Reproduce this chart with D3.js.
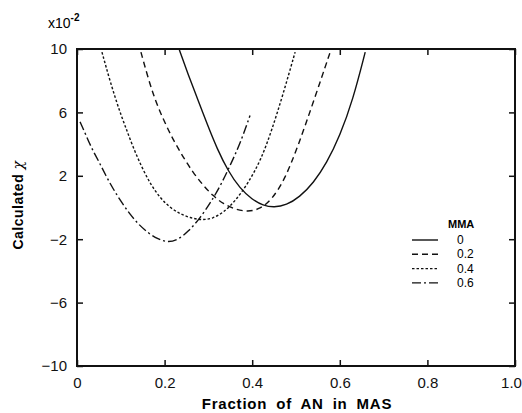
<!DOCTYPE html>
<html lang="en">
<head>
    <meta charset="UTF-8">
    <title>Calculated chi vs fraction of AN in MAS</title>
    <script src="https://d3js.org/d3.v7.min.js"></script>
    <style>
        body { margin: 0; background: #fff; }
        svg { display: block; }
        .tick text { font-family: "Liberation Sans", Arial, sans-serif; font-size: 15px; fill: #111; }
        .curve { fill: none; stroke: #111; stroke-width: 1.4; }
    </style>
</head>
<body>
    <svg width="522" height="413"></svg>
    <script>
        // data (x = fraction of AN, y = chi x 10^2)
        const mma0 = [[0.233,10],[0.255,8.3],[0.276,6.8],[0.298,5.2],[0.320,3.7],[0.345,2.3],[0.372,1.2],[0.400,0.5],[0.425,0.12],[0.450,0.0],[0.478,0.15],[0.508,0.65],[0.540,1.55],[0.570,2.8],[0.600,4.5],[0.630,6.8],[0.658,9.8]];
        const mma02 = [[0.146,9.8],[0.162,8.2],[0.178,6.8],[0.198,5.5],[0.219,4.3],[0.242,3.2],[0.265,2.2],[0.288,1.4],[0.310,0.75],[0.335,0.2],[0.362,-0.12],[0.390,-0.28],[0.418,-0.1],[0.445,0.5],[0.475,1.8],[0.505,3.9],[0.539,6.6],[0.578,9.8]];
        const mma04 = [[0.057,9.8],[0.075,8.0],[0.098,6.0],[0.112,5.0],[0.128,3.8],[0.147,2.6],[0.167,1.5],[0.190,0.6],[0.212,0.0],[0.235,-0.4],[0.258,-0.65],[0.285,-0.8],[0.310,-0.7],[0.335,-0.3],[0.361,0.4],[0.390,1.5],[0.420,3.0],[0.445,4.9],[0.470,7.1],[0.498,9.8]];
        const mma06 = [[0.007,5.4],[0.020,4.6],[0.034,3.7],[0.050,2.9],[0.066,2.0],[0.082,1.2],[0.100,0.4],[0.120,-0.4],[0.140,-1.05],[0.162,-1.6],[0.185,-2.0],[0.207,-2.2],[0.230,-2.05],[0.255,-1.5],[0.280,-0.7],[0.305,0.3],[0.330,1.5],[0.352,2.8],[0.372,4.0],[0.395,5.8]];

        const seriesLabels = ["0", "0.2", "0.4", "0.6"];
        const seriesData = [mma0, mma02, mma04, mma06];
        const dashes = ["none", "6,4", "2.5,2", "9,3,2,3"];

        const xTicks = [0, 0.2, 0.4, 0.6, 0.8, 1.0];
        const xTickLabels = ["0", "0.2", "0.4", "0.6", "0.8", "1.0"];
        const yTicks = [-10, -6, -2, 2, 6, 10];

        const margin = {top: 49, right: 7, bottom: 47, left: 77},
              width = 522 - margin.left - margin.right,
              height = 413 - margin.top - margin.bottom;

        const svg = d3.select("svg");
        const g = svg.append("g")
            .attr("transform", `translate(${margin.left},${margin.top})`);

        const x = d3.scaleLinear().domain([0, 1]).range([0, width]);
        const y = d3.scaleLinear().domain([-10, 10]).range([height, 0]);

        // axes with inward ticks
        const fmtX = (d, i) => xTickLabels[i];
        g.append("g")
            .attr("transform", `translate(0,${height})`)
            .call(d3.axisBottom(x).tickValues(xTicks).tickSize(-6).tickPadding(11).tickFormat(fmtX))
            .call(a => a.select(".domain").remove())
            .call(a => a.selectAll(".tick:last-of-type text").attr("dx", -4));
        g.append("g")
            .call(d3.axisTop(x).tickValues(xTicks).tickSize(-6).tickFormat(""))
            .call(a => a.select(".domain").remove());
        g.append("g")
            .call(d3.axisLeft(y).tickValues(yTicks).tickSize(-6).tickPadding(10).tickFormat(d => d < 0 ? "\u2212" + Math.abs(d) : d))
            .call(a => a.select(".domain").remove());
        g.append("g")
            .attr("transform", `translate(${width},0)`)
            .call(d3.axisRight(y).tickValues(yTicks).tickSize(-6).tickFormat(""))
            .call(a => a.select(".domain").remove());

        g.selectAll(".tick line").attr("stroke", "#111").attr("stroke-width", 1.5);

        g.append("rect")
            .attr("width", width)
            .attr("height", height)
            .attr("fill", "none")
            .attr("stroke", "#111")
            .attr("stroke-width", 2);

        const line = d3.line()
            .x(d => x(d[0]))
            .y(d => y(d[1]))
            .curve(d3.curveBasis);

        g.selectAll(".curve")
            .data(seriesData)
            .enter().append("path")
            .attr("class", "curve")
            .attr("d", line)
            .attr("stroke-dasharray", (d, i) => dashes[i]);

        // legend
        const legend = g.append("g").attr("transform", "translate(335,179)");
        legend.append("text")
            .attr("x", 36).attr("y", 0)
            .attr("font-family", "Liberation Sans, Arial, sans-serif")
            .attr("font-size", 11).attr("font-weight", "bold")
            .text("MMA");
        const rows = legend.selectAll(".row")
            .data(seriesLabels)
            .enter().append("g")
            .attr("transform", (d, i) => `translate(0,${12 + i * 14.3})`);
        rows.append("line")
            .attr("x1", 0).attr("x2", 26)
            .attr("stroke", "#111").attr("stroke-width", 1.4)
            .attr("stroke-dasharray", (d, i) => dashes[i]);
        rows.append("text")
            .attr("x", 45).attr("y", 4)
            .attr("font-family", "Liberation Sans, Arial, sans-serif")
            .attr("font-size", 12)
            .text(d => d);

        // axis titles
        svg.append("text")
            .attr("x", 297)
            .attr("y", 409)
            .attr("text-anchor", "middle")
            .attr("font-family", "Liberation Sans, Arial, sans-serif")
            .attr("font-size", 15).attr("font-weight", "bold")
            .attr("letter-spacing", 0.8).attr("word-spacing", 4)
            .text("Fraction of AN in MAS");

        const yt = svg.append("text")
            .attr("transform", "translate(23,205) rotate(-90)")
            .attr("text-anchor", "middle")
            .attr("font-family", "Liberation Sans, Arial, sans-serif")
            .attr("font-size", 14).attr("font-weight", "bold")
            .attr("letter-spacing", 0.5);
        yt.append("tspan").text("Calculated ");
        yt.append("tspan").attr("font-style", "italic").attr("font-weight", "normal")
            .attr("font-family", "DejaVu Serif, serif").text("\u03c7");

        const mult = svg.append("text")
            .attr("x", 48).attr("y", 28)
            .attr("font-family", "Liberation Sans, Arial, sans-serif")
            .attr("font-size", 14);
        mult.append("tspan").text("x10");
        mult.append("tspan").attr("dy", -7).attr("font-size", 10).attr("font-weight", "bold").text("-2");
    </script>
</body>
</html>
